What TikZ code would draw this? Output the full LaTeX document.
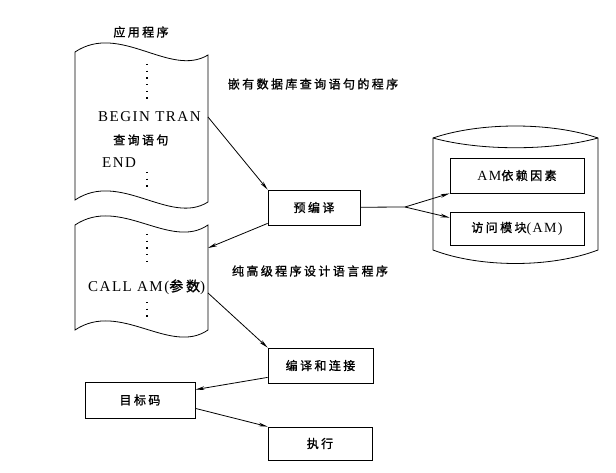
\documentclass[tikz,border=0pt]{standalone}
\usepackage{fontspec}
\setmainfont{Liberation Serif}
\newfontfamily\cjk[LetterSpace=20, FakeBold=1.2]{Noto Sans CJK SC}
\newfontfamily\docfont[LetterSpace=10]{Liberation Serif}
\usetikzlibrary{arrows.meta, positioning, calc}
\tikzset{
  box/.style={rectangle, draw, line width=0.8pt, inner sep=0pt,
    font=\fontsize{12}{14}\cjk},
  doc/.style={draw, line width=0.8pt},
  doctext/.style={anchor=west, inner sep=0pt, font=\fontsize{15}{17}\docfont},
  lbl/.style={inner sep=0pt, font=\fontsize{12}{14}\cjk},
  vdots/.style={line width=1.2pt, dash pattern=on 1.2pt off 5.5pt},
  arrow/.style={-{Stealth[length=9pt,width=3.6pt]}, line width=0.8pt},
  line/.style={line width=0.8pt}
}
\newcommand{\latin}[1]{{\fontsize{14}{16}\docfont #1}}
\begin{document}
\begin{tikzpicture}[x=1pt, y=-1pt]
  \useasboundingbox (0,0) rectangle (616,473);

  % application program
  \node[lbl] (apptitle) at (141,32) {应用程序};
  \draw[doc] (75,52) .. controls (120,22) and (170,78) .. (208,55) -- (208,202)
    .. controls (170,226) and (120,170) .. (75,200) -- cycle;
  \draw[vdots] (147,64) -- (147,104);
  \node[doctext] (begin) at (98,117) {BEGIN TRAN};
  \node[lbl, anchor=west] (query) at (113,140) {查询语句};
  \node[doctext] (end) at (102,163) {END};
  \draw[vdots] (147,172) -- (147,192);
  \coordinate (doc1out) at (208,117);

  % pure host language program
  \draw[doc] (75,225) .. controls (120,195) and (170,251) .. (208,225) -- (208,330)
    .. controls (170,356) and (120,300) .. (75,330) -- cycle;
  \draw[vdots] (147,234) -- (147,266);
  \node[doctext] (call) at (88,287) {CALL AM({\fontsize{14}{16}\cjk 参数})};
  \draw[vdots] (147,302) -- (147,320);
  \coordinate (doc2in) at (208,248);
  \coordinate (doc2out) at (208,293);

  \node[lbl] (embedlbl) at (313,84) {嵌有数据库查询语句的程序};
  \node[lbl] (purelbl) at (310,271) {纯高级程序设计语言程序};

  % processing steps
  \node[box, minimum width=92pt, minimum height=35pt] (pre) at (314,207.5) {预编译};
  \node[box, minimum width=105pt, minimum height=35pt] (comp) at (320.5,365.5) {编译和连接};
  \node[box, minimum width=110pt, minimum height=36pt] (obj) at (140,400) {目标码};
  \node[box, minimum width=104pt, minimum height=33pt] (exec) at (320,443.5) {执行};

  % database
  \draw[doc] (433,138) .. controls (480,122) and (551,122) .. (598,138) -- (598,250)
    .. controls (551,268) and (480,268) .. (433,250) -- cycle;
  \draw[doc] (433,138) .. controls (480,151) and (551,151) .. (598,138);
  \node[box, minimum width=134pt, minimum height=35pt] (dep) at (517,175.5) {\latin{AM}依赖因素};
  \node[box, minimum width=134pt, minimum height=33pt] (acc) at (517,228.5) {访问模块\latin{(AM)}};
  \coordinate (split) at (405,207);

  % connections
  \draw[arrow] (doc1out) -- (pre.north west);
  \draw[arrow] ([yshift=2pt]pre.south west) -- (doc2in);
  \draw[line] (pre) -- (split);
  \draw[arrow] (split) -- (dep.south west);
  \draw[arrow] (split) -- ([yshift=-6pt]acc.north west);
  \draw[arrow] (doc2out) -- (comp.north west);
  \draw[arrow] ([yshift=6pt]comp.south west) -- ([yshift=-8pt]obj.north east);
  \draw[arrow] ([yshift=10pt]obj.south east) -- (exec.north west);
\end{tikzpicture}
\end{document}
